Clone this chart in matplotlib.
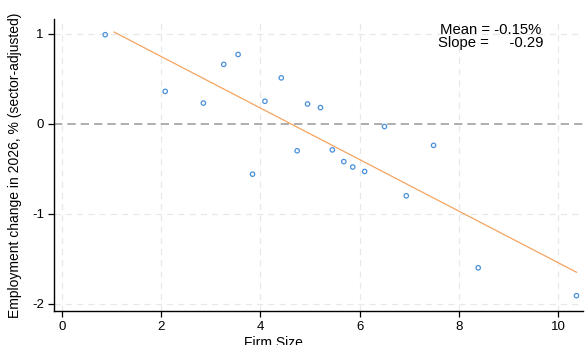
import numpy as np
import matplotlib
matplotlib.use("Agg")
import matplotlib.pyplot as plt

firm_size = [0.87, 2.08, 2.85, 3.26, 3.55, 3.84, 4.09, 4.42, 4.74, 4.95,
             5.21, 5.45, 5.68, 5.86, 6.10, 6.50, 6.94, 7.49, 8.39, 10.37]
emp_change = [0.99, 0.36, 0.23, 0.66, 0.77, -0.56, 0.25, 0.51, -0.30, 0.22,
              0.18, -0.29, -0.42, -0.48, -0.53, -0.03, -0.80, -0.24, -1.60, -1.91]
fit_range = [1.05, 10.37]
xticks = [0, 2, 4, 6, 8, 10]
yticks = [-2, -1, 0, 1]

plt.rcParams['font.family'] = ['Liberation Sans', 'DejaVu Sans']
plt.rcParams['axes.unicode_minus'] = False

fig = plt.figure(figsize=(5.86, 3.45), dpi=100)
ax = fig.add_axes([0.0927, 0.0986, 0.902, 0.846])

x = np.array(firm_size)
y = np.array(emp_change)
slope, intercept = np.polyfit(x, y, 1)
xf = np.array(fit_range)

for v in xticks:
    ax.axvline(v, color='#e8e8e8', lw=0.9, ls=(0, (5, 4)), zorder=0)
for v in yticks:
    if v != 0:
        ax.axhline(v, color='#e8e8e8', lw=0.9, ls=(0, (5, 4)), zorder=0)
ax.axhline(0, color='#a0a0a0', lw=1.2, ls=(0, (5, 3)), zorder=1)

ax.plot(xf, intercept + slope * xf, color='#f4a460', lw=0.9, zorder=2)
ax.scatter(x, y, s=10, facecolors='none', edgecolors='#4a90d9', linewidths=0.9, zorder=3)

ax.set_xlim(-0.155, 10.5)
ax.set_ylim(-2.08, 1.163)
ax.set_xticks(xticks)
ax.set_yticks(yticks)
for s in ['top', 'right']:
    ax.spines[s].set_visible(False)
ax.spines['left'].set_linewidth(1.0)
ax.spines['bottom'].set_linewidth(1.0)
ax.tick_params(labelsize=9.5, length=4, width=0.9, colors='black')

ax.set_xlabel('Firm Size', fontsize=10)
ax.xaxis.set_label_coords(0.415, -0.085)
ax.set_ylabel('Employment change in 2026, % (sector-adjusted)', fontsize=10)
ax.yaxis.set_label_coords(-0.062, 0.5)

ax.text(0.826, 0.985, 'Mean = -0.15%\nSlope =     -0.29', transform=ax.transAxes,
        ha='center', va='top', fontsize=10.7, linespacing=0.9)

fig.savefig('out.png', dpi=100)
